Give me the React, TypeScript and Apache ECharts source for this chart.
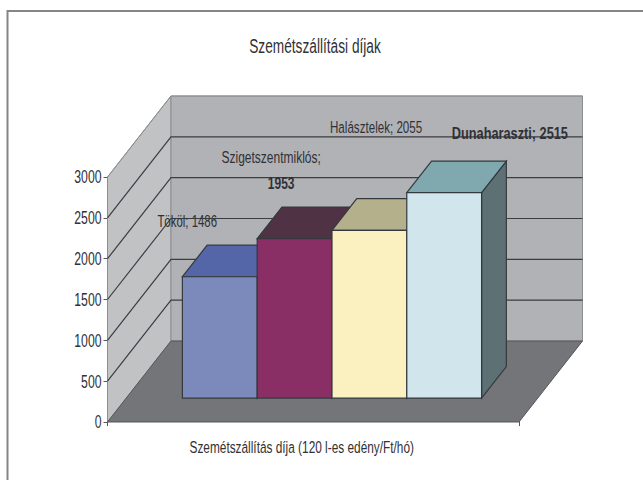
import React, { useEffect, useRef } from "react";
import * as echarts from "echarts";

const titleText = "Szemétszállítási díjak";
const categories = ["Szemétszállítás díja (120 l-es edény/Ft/hó)"];
const yTicks = [0, 500, 1000, 1500, 2000, 2500, 3000];
const barNames = ["Tököl", "Szigetszentmiklós", "Halásztelek", "Dunaharaszti"];
const barValues = [1486, 1953, 2055, 2515];
const frontColors = ["#7c89bb", "#8a2f66", "#faf0c0", "#d0e5ec"];
const topColors = ["#5465a8", "#4f3345", "#b4b08c", "#7fa9ae"];
const sideColors = ["#3f4a78", "#5a2045", "#8f8c70", "#5d7175"];

const FONT = '"Liberation Sans", sans-serif';
const SQUEEZE = 0.68;
const DEPTH_X = 63.5;
const DEPTH_Y = -81;
const BAR_FRAC = 0.39;
const FRONT_FRAC = 0.295;
const BAR_W_FRAC = 74.8 / 411.5;
const EDGE = "#34393e";
const INK = "#303135";

// label placement relative to the top-left corner of each bar's front face
const labelLines: Array<Array<{ text: string; dx: number; dy: number; bold?: boolean; align?: string; size: number; sx: number }>> = [
  [{ text: "Tököl; 1486", dx: -25, dy: -56, size: 16, sx: 0.714 }],
  [
    { text: "Szigetszentmiklós;", dx: 14, dy: -81, align: "center", size: 17, sx: 0.706 },
    { text: "1953", dx: 24, dy: -55, bold: true, align: "center", size: 17, sx: 0.706 },
  ],
  [{ text: "Halásztelek; 2055", dx: -2, dy: -103, size: 17, sx: 0.683 }],
  [{ text: "Dunaharaszti; 2515", dx: 45, dy: -60, bold: true, size: 17, sx: 0.75 }],
];

function poly(points: number[][], fill: string, stroke: string, lineWidth = 1.2) {
  return { type: "polygon", shape: { points }, style: { fill, stroke, lineWidth } };
}

function squeezed(text: string, x: number, y: number, size: number, sx: number, align: string, bold = false) {
  return {
    type: "text",
    x,
    y,
    scaleX: sx,
    style: {
      text,
      fill: INK,
      font: `${bold ? "bold " : ""}${size}px ${FONT}`,
      textAlign: align,
      textVerticalAlign: "middle",
    },
  };
}

function wallsItem(_p: any, api: any) {
  const tick = api.value(1);
  const c = api.coord([0, tick]);
  const band = api.size([1, 0])[0];
  const x0 = c[0] - band / 2;
  const x1 = c[0] + band / 2;
  const y = c[1];
  const zero = api.coord([0, 0])[1];
  const topY = api.coord([0, 3000])[1];
  const children: any[] = [];
  if (tick === 0) {
    children.push(
      poly([[x0, zero], [x0 + DEPTH_X, zero + DEPTH_Y], [x0 + DEPTH_X, topY + DEPTH_Y], [x0, topY]], "#c1c2c4", "#8d8e90", 1),
      poly([[x0 + DEPTH_X, zero + DEPTH_Y], [x1 + DEPTH_X, zero + DEPTH_Y], [x1 + DEPTH_X, topY + DEPTH_Y], [x0 + DEPTH_X, topY + DEPTH_Y]], "#b1b2b6", "#8d8e90", 1),
      poly([[x0, zero], [x1, zero], [x1 + DEPTH_X, zero + DEPTH_Y], [x0 + DEPTH_X, zero + DEPTH_Y]], "#747578", "#55565a", 1),
      squeezed(categories[0], c[0] - 11.5, zero + 25, 17, 0.697, "center")
    );
  } else {
    children.push({
      type: "polyline",
      shape: { points: [[x0, y], [x0 + DEPTH_X, y + DEPTH_Y], [x1 + DEPTH_X, y + DEPTH_Y]] },
      style: { fill: "none", stroke: tick === 3000 ? "#8d8e90" : "#3c3d40", lineWidth: tick === 3000 ? 1 : 1.2 },
    });
  }
  children.push(squeezed(String(tick), x0 - 6, y, 18, SQUEEZE, "right"));
  return { type: "group", children };
}

function barItem(i: number) {
  return (_p: any, api: any) => {
    const value = api.value(1);
    const c = api.coord([0, value]);
    const band = api.size([1, 0])[0];
    const w = band * BAR_W_FRAC;
    const ox = DEPTH_X * FRONT_FRAC;
    const oy = DEPTH_Y * FRONT_FRAC;
    const base = api.coord([0, 0])[1] + oy;
    const left = c[0] - 2 * w + i * w + ox;
    const right = left + w;
    const top = c[1] + oy;
    const dx = DEPTH_X * BAR_FRAC;
    const dy = DEPTH_Y * BAR_FRAC;
    const children: any[] = [
      poly([[right, base], [right + dx, base + dy], [right + dx, top + dy], [right, top]], sideColors[i], EDGE),
      poly([[left, top], [right, top], [right + dx, top + dy], [left + dx, top + dy]], topColors[i], EDGE),
      poly([[left, base], [right, base], [right, top], [left, top]], frontColors[i], EDGE),
    ];
    return { type: "group", children };
  };
}

function labelItem(i: number) {
  return (_p: any, api: any) => {
    const c = api.coord([0, api.value(1)]);
    const band = api.size([1, 0])[0];
    const w = band * BAR_W_FRAC;
    const left = c[0] - 2 * w + i * w + DEPTH_X * FRONT_FRAC;
    const top = c[1] + DEPTH_Y * FRONT_FRAC;
    return {
      type: "group",
      children: labelLines[i].map((l) =>
        squeezed(l.text, left + l.dx, top + l.dy, l.size, l.sx, l.align ?? "left", l.bold)
      ),
    };
  };
}

export default function App() {
  const ref = useRef<HTMLDivElement>(null);
  useEffect(() => {
    const chart = echarts.init(ref.current!, null, { renderer: "svg" });
    const common = { coordinateSystem: "cartesian2d", silent: true, encode: { x: 0, y: 1 } };
    chart.setOption({
      animation: false,
      backgroundColor: "#ffffff",
      graphic: [
        {
          type: "rect",
          shape: { x: 7.5, y: 11, width: 700, height: 540 },
          style: { fill: "none", stroke: "#85868a", lineWidth: 2 },
          silent: true,
        },
        {
          type: "text",
          x: 315,
          y: 45.5,
          scaleX: 0.652,
          silent: true,
          style: {
            text: titleText,
            fill: INK,
            font: `21px ${FONT}`,
            textAlign: "center",
            textVerticalAlign: "middle",
          },
        },
      ],
      grid: { left: 107.5, top: 177, width: 411.5, height: 245, containLabel: false },
      xAxis: {
        type: "category",
        data: categories,
        axisLine: { show: false },
        axisTick: { show: true, length: 4, alignWithLabel: false, lineStyle: { color: "#55565a" } },
        axisLabel: { show: false },
      },
      yAxis: {
        type: "value",
        min: 0,
        max: 3000,
        interval: 500,
        splitLine: { show: false },
        axisLine: { show: true, lineStyle: { color: "#55565a" } },
        axisTick: { show: true, length: 4, lineStyle: { color: "#55565a" } },
        axisLabel: { show: false },
      },
      series: [
        { ...common, type: "custom", name: "walls", renderItem: wallsItem, data: yTicks.map((t) => [0, t]) },
        ...barNames.map((name, i) => ({
          ...common,
          type: "custom",
          name,
          renderItem: barItem(i),
          data: [[0, barValues[i]]],
        })),
        ...barNames.map((name, i) => ({
          ...common,
          type: "custom",
          name: name + " label",
          renderItem: labelItem(i),
          data: [[0, barValues[i]]],
        })),
      ],
    });
    return () => chart.dispose();
  }, []);
  return <div ref={ref} style={{ position: "fixed", left: 0, top: 0, width: 643, height: 480 }} />;
}
